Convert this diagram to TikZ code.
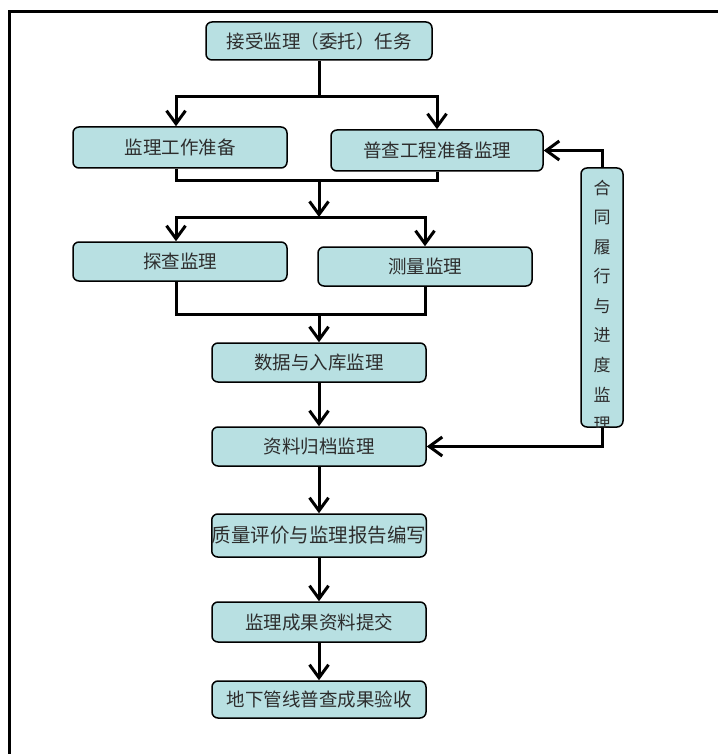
\documentclass[tikz,border=0pt]{standalone}
\usepackage{fontspec}
\usepackage{tikz}
\usetikzlibrary{arrows.meta}
\newfontfamily\cjk{Noto Sans CJK SC}
\definecolor{boxfill}{RGB}{184,224,226}
\definecolor{textgray}{RGB}{45,45,45}

\begin{document}
\begin{tikzpicture}[x=1pt,y=-1pt,
  box/.style={draw=black,line width=1.5pt,fill=boxfill,rounded corners=6pt,minimum width=214pt,minimum height=39pt,inner sep=0pt,font=\cjk\fontsize{18.5}{22}\selectfont,text=textgray},
  flow/.style={line width=3pt,-{Straight Barb[length=13pt,width=19pt]}},
  link/.style={line width=3pt}]
\useasboundingbox (0,0) rectangle (717,754);
\draw[line width=3pt] (9,760) -- (9,12) -- (720,12);
\node[box,minimum width=226pt,minimum height=38pt] (task) at (319,41) {接受监理（委托）任务};
\node[box,minimum height=41pt] (prep) at (180,147.5) {监理工作准备};
\node[box,minimum width=212pt,minimum height=41pt] (census) at (437,150.5) {普查工程准备监理};
\node[box] (detect) at (180,261.5) {探查监理};
\node[box] (survey) at (425,266.5) {测量监理};
\node[box] (data) at (319,362.5) {数据与入库监理};
\node[box] (archive) at (319,446.5) {资料归档监理};
\node[box,minimum height=43pt,font=\cjk\fontsize{19.5}{24}\selectfont] (quality) at (319,535.5) {质量评价与监理报告编写};
\node[box,minimum height=40pt] (submit) at (319,622) {监理成果资料提交};
\node[box,minimum height=37pt] (accept) at (319,699.5) {地下管线普查成果验收};
\node[box,minimum width=42pt,minimum height=259pt] (contract) at (602,297.5) {};
\begin{scope}
\clip[rounded corners=6pt] (contract.south west) rectangle (contract.north east);
\foreach \ch [count=\i] in {合,同,履,行,与,进,度,监,理}
  \node[font=\cjk\fontsize{17}{20}\selectfont,text=textgray] (c\i) at (602,158.5+29.5*\i) {\ch};
\end{scope}
\coordinate (laneL) at (176,0);
\coordinate (splitA) at (319,97);
\coordinate (joinA) at (319,180);
\coordinate (splitB) at (319,217);
\coordinate (joinB) at (319,314);
\draw[link] (task.south) -- (splitA);
\draw[flow] (splitA) -| (laneL |- prep.north);
\draw[flow] (splitA) -| (census.north);
\draw[link] (laneL |- prep.south) |- (joinA) -| (census.south);
\draw[flow] (joinA) -- (splitB);
\draw[flow] (splitB) -| (laneL |- detect.north);
\draw[flow] (splitB) -| (survey.north);
\draw[link] (laneL |- detect.south) |- (joinB) -| (survey.south);
\draw[flow] (joinB) -- (data.north);
\draw[flow] (data) -- (archive);
\draw[flow] (archive) -- (quality);
\draw[flow] (quality) -- (submit);
\draw[flow] (submit) -- (accept);
\draw[flow] (contract.north) |- (census.east);
\draw[flow] (contract.south) |- (archive.east);
\end{tikzpicture}
\end{document}
